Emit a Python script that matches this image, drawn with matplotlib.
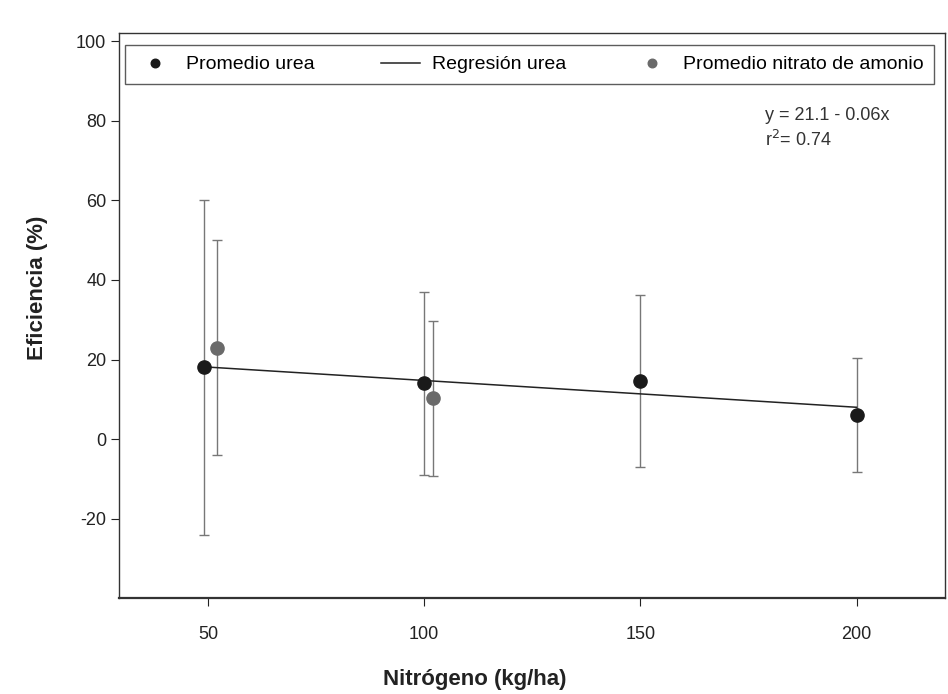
import matplotlib
matplotlib.use('Agg')
import matplotlib.pyplot as plt

plt.rcParams['font.family'] = ['Liberation Sans', 'DejaVu Sans']
plt.rcParams['axes.unicode_minus'] = False

# Promedio urea
urea_x = [49, 100, 150, 200]
urea_y = [18, 14, 14.6, 6]
urea_err = [42, 23, 21.7, 14.3]

# Promedio nitrato de amonio
nitrato_x = [52, 102]
nitrato_y = [23, 10.3]
nitrato_err = [27, 19.5]

# Regresión urea (extremos)
reg_x = [50, 200]
reg_y = [18.1, 8.0]

x_ticks = [50, 100, 150, 200]
y_ticks = [-20, 0, 20, 40, 60, 80, 100]

fig = plt.figure(figsize=(9.48, 6.94), dpi=100)
ax = fig.add_axes([0.126, 0.138, 0.871, 0.814])

gris_barra = '#777777'
negro = '#1a1a1a'
gris = '#6a6a6a'

ax.errorbar(urea_x, urea_y, yerr=urea_err, fmt='none', ecolor=gris_barra,
            elinewidth=1, capsize=3.5, capthick=1, zorder=2)
ax.errorbar(nitrato_x, nitrato_y, yerr=nitrato_err, fmt='none', ecolor=gris_barra,
            elinewidth=1, capsize=3.5, capthick=1, zorder=2)
ax.plot(reg_x, reg_y, color='#222222', lw=1.1, zorder=3, label=u'Regresión urea')
ax.plot(urea_x, urea_y, 'o', color=negro, ms=9.5, zorder=4, label='Promedio urea')
ax.plot(nitrato_x, nitrato_y, 'o', color=gris, ms=9.5, zorder=4,
        label='Promedio nitrato de amonio')

ax.set_xlim(29.5, 220.5)
ax.set_ylim(-40, 102)
ax.set_xticks(x_ticks)
ax.set_yticks(y_ticks)
ax.tick_params(direction='out', length=6, labelsize=13, colors='#222222')
ax.tick_params(axis='x', pad=14)

ax.set_xlabel(u'Nitrógeno (kg/ha)', fontsize=16, fontweight='bold', color='#222222')
ax.set_ylabel('Eficiencia (%)', fontsize=16, fontweight='bold', color='#222222')
ax.xaxis.set_label_coords(0.43, -0.126)
ax.yaxis.set_label_coords(-0.087, 0.55)

for s in ax.spines.values():
    s.set_color('#333333')
    s.set_linewidth(1.0)
ax.spines['bottom'].set_linewidth(1.6)

# Leyenda en una fila
h, l = ax.get_legend_handles_labels()
orden = [1, 0, 2]
ax.legend([h[i] for i in orden], [l[i] for i in orden], loc='upper left', ncol=3,
          bbox_to_anchor=(0.007, 0.979), frameon=True, fancybox=False,
          edgecolor='#333333', fontsize=14, handlelength=2.0, handletextpad=0.6,
          columnspacing=3.4, borderaxespad=0, borderpad=0.55, markerscale=0.65)

ax.text(0.782, 0.855, 'y = 21.1 - 0.06x', transform=ax.transAxes, fontsize=13,
        color='#333333', va='center')
ax.text(0.782, 0.812, r'r$^2$= 0.74', transform=ax.transAxes, fontsize=13,
        color='#333333', va='center')

plt.savefig('out.png', dpi=100)
